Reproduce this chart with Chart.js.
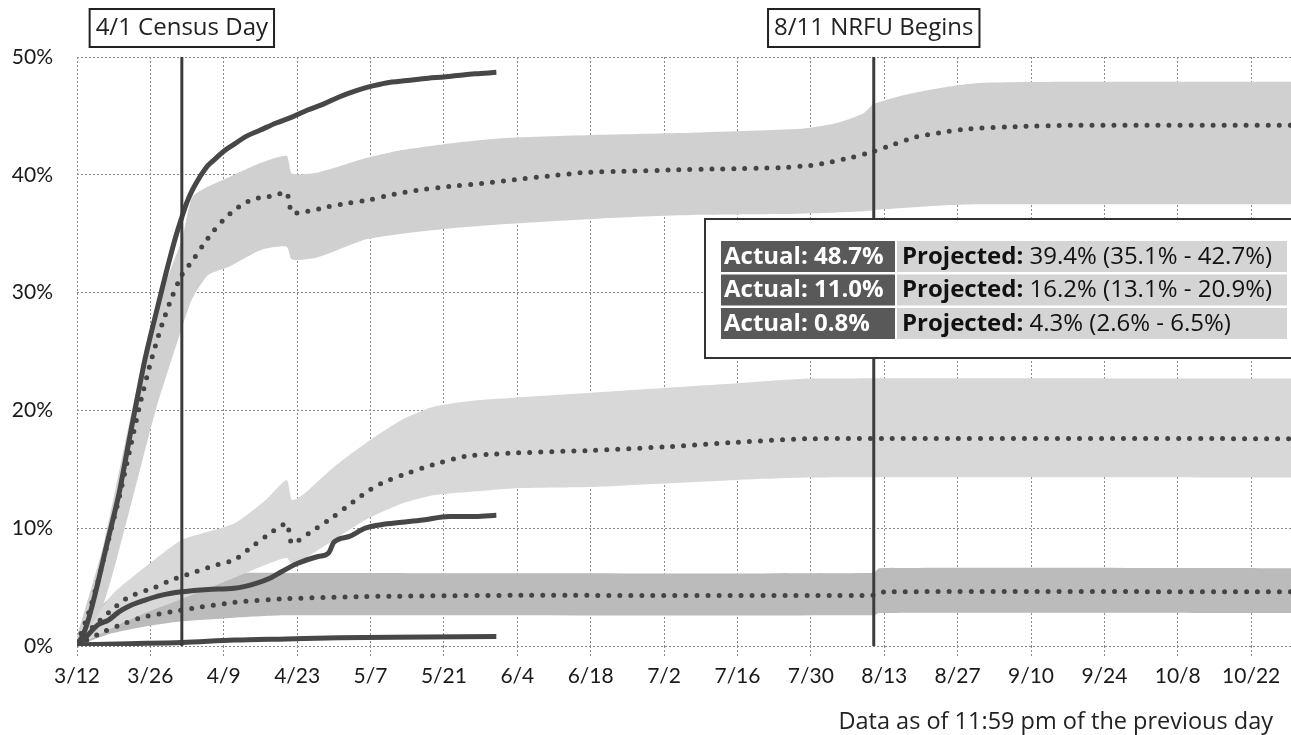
<!DOCTYPE html>
<html>
<head>
<meta charset="utf-8">
<script src="https://cdn.jsdelivr.net/npm/chart.js@4.4.1/dist/chart.umd.min.js"></script>
<style>
  body { margin: 0; background: #fff; }
  canvas { display: block; }
</style>
</head>
<body>
<canvas id="responseChart" width="1291" height="735"></canvas>
<script>
// days since 3/12
const xTickLabels = ['3/12', '3/26', '4/9', '4/23', '5/7', '5/21', '6/4', '6/18', '7/2', '7/16', '7/30', '8/13', '8/27', '9/10', '9/24', '10/8', '10/22'];
const yTicks = [0, 10, 20, 30, 40, 50];

// actual response rates (solid lines)
const actualHighDays = [0, 1, 2, 3, 4, 5, 6, 7, 8, 9, 10, 11, 12, 13, 14, 15, 16, 17, 18, 19, 20, 21, 22, 23, 24, 25, 26, 28, 30, 32, 35, 38, 41, 44, 47, 50, 53, 56, 59, 63, 67, 70, 74, 77, 80];
const actualHigh = [0.2, 0.8, 2.0, 3.6, 5.4, 7.3, 9.2, 11.0, 12.9, 15.2, 17.6, 19.9, 22.2, 24.4, 26.3, 28.1, 29.9, 31.7, 33.4, 35.0, 36.4, 37.7, 38.7, 39.5, 40.2, 40.8, 41.2, 42.0, 42.6, 43.2, 43.8, 44.4, 44.9, 45.5, 46.0, 46.6, 47.1, 47.5, 47.8, 48.0, 48.2, 48.3, 48.5, 48.6, 48.7];
const actualMidDays = [0, 2, 4, 6, 8, 10, 13, 16, 20, 25, 30, 34, 37, 39, 42, 46, 48, 49, 52, 55, 58, 62, 66, 71, 76, 80];
const actualMid = [0, 0.9, 1.8, 2.2, 2.9, 3.4, 3.9, 4.3, 4.6, 4.8, 4.9, 5.3, 5.8, 6.3, 7.0, 7.6, 7.9, 8.8, 9.3, 10.0, 10.3, 10.5, 10.7, 11.0, 11.0, 11.1];
const actualLowDays = [0, 10, 20, 30, 40, 50, 60, 80];
const actualLow = [0.1, 0.2, 0.3, 0.5, 0.6, 0.7, 0.75, 0.8];

// projected (dotted lines)
const projHighDays = [0, 2, 4, 6, 8, 10, 12, 14, 16, 18, 20, 22, 24, 26, 28, 30, 32, 34, 36, 38, 40, 41, 44, 48, 52, 56, 60, 65, 71, 78, 84, 90, 97, 105, 113, 123, 134, 140, 144, 148, 152, 156, 160, 165, 170, 180, 190, 232];
const projHigh = [0.2, 2.5, 5.5, 9.0, 12.5, 16.5, 20.5, 24.0, 27.0, 29.5, 31.5, 32.7, 34.0, 35.2, 36.2, 37.0, 37.6, 38.0, 38.1, 38.3, 38.5, 36.8, 36.9, 37.3, 37.6, 37.9, 38.3, 38.7, 39.0, 39.3, 39.6, 39.9, 40.2, 40.3, 40.4, 40.5, 40.6, 40.8, 41.1, 41.5, 42.0, 42.6, 43.2, 43.6, 43.9, 44.1, 44.2, 44.2];
const projMidDays = [0, 3, 7, 10, 15, 18, 22, 26, 30, 33, 36, 40, 41, 45, 49, 52, 55, 58, 62, 68, 74, 80, 84, 98, 112, 126, 140, 232];
const projMid = [0.2, 1.6, 3.2, 4.2, 5.0, 5.6, 6.2, 6.8, 7.3, 8.3, 9.3, 10.4, 8.7, 9.8, 11.0, 12.0, 13.0, 13.8, 14.5, 15.4, 16.1, 16.3, 16.4, 16.6, 16.9, 17.3, 17.6, 17.6];
const projLowDays = [0, 5, 9, 13, 18, 22, 30, 39, 55, 83, 152, 154, 232];
const projLow = [0.1, 1.2, 1.9, 2.5, 2.9, 3.2, 3.7, 4.0, 4.2, 4.3, 4.3, 4.6, 4.6];

// projection ranges (shaded bands)
const bandHighDays = [0, 5, 10, 15, 20, 22, 25, 29, 35, 40, 41, 46, 55, 62, 70, 81, 100, 119, 138, 145, 150, 152, 158, 165, 172, 190, 232];
const bandHighUpper = [0.8, 8.5, 19, 28.5, 34.5, 38.1, 39.0, 39.8, 41.0, 41.6, 40.1, 40.2, 41.4, 42.1, 42.6, 43.1, 43.4, 43.6, 43.9, 44.4, 45.2, 46.0, 46.8, 47.4, 47.8, 47.9, 47.9];
const bandHighLower = [0, 3.5, 11.5, 20, 27, 29.5, 31.5, 32.2, 33.6, 33.9, 32.8, 33.0, 34.5, 35.0, 35.4, 35.8, 36.3, 36.6, 36.7, 36.8, 36.9, 37.0, 37.2, 37.4, 37.5, 37.5, 37.5];
const bandMidDays = [0, 3, 7, 13, 20, 30, 36, 40, 41, 43, 49, 55, 62, 68, 75, 84, 98, 112, 126, 140, 232];
const bandMidUpper = [0.3, 2.2, 4.5, 6.7, 9.0, 10.4, 12.4, 14.1, 12.4, 12.8, 15.2, 17.2, 19.2, 20.3, 20.8, 21.1, 21.5, 21.9, 22.3, 22.7, 22.7];
const bandMidLower = [0, 0.7, 1.6, 2.8, 4.0, 5.8, 6.9, 7.5, 6.9, 7.3, 9.0, 10.7, 12.1, 12.8, 13.1, 13.4, 13.5, 13.8, 14.1, 14.3, 14.3];
const bandLowDays = [0, 3, 6, 10, 15, 20, 30, 40, 152, 153, 232];
const bandLowUpper = [0.3, 2.5, 4.0, 5.0, 5.7, 6.0, 6.2, 6.2, 6.2, 6.6, 6.6];
const bandLowLower = [0, 0.5, 1.0, 1.4, 1.8, 2.1, 2.4, 2.6, 2.6, 2.8, 2.8];

// milestones
const markerDays = [20, 152];
const markerLabels = ['4/1 Census Day', '8/11 NRFU Begins'];

// summary box
const summaryActual = ['48.7%', '11.0%', '0.8%'];
const summaryProjected = ['39.4% (35.1% - 42.7%)', '16.2% (13.1% - 20.9%)', '4.3% (2.6% - 6.5%)'];
const footnote = 'Data as of 11:59 pm of the previous day';

const FONT = 'Lato, "Open Sans", sans-serif';
const TEXT_FONT = '"Open Sans", Lato, sans-serif';
const LINE_DARK = '#474747';

function pts(days, vals) {
    return days.map((d, i) => ({ x: d, y: vals[i] }));
}

function solid(days, vals) {
    return {
        data: pts(days, vals), borderColor: LINE_DARK, borderWidth: 5, pointRadius: 0,
        cubicInterpolationMode: 'monotone', fill: false, order: 1
    };
}

function dotted(days, vals) {
    return {
        data: pts(days, vals), borderColor: '#444', borderWidth: 5, pointRadius: 0,
        borderDash: [0, 11], borderCapStyle: 'round', tension: 0.2, fill: false, order: 2
    };
}

function bandEdge(days, vals, fillColor) {
    return {
        data: pts(days, vals), borderWidth: 0, borderColor: 'rgba(0,0,0,0)', pointRadius: 0,
        tension: 0.2, fill: fillColor ? { target: '-1' } : false,
        backgroundColor: fillColor || 'rgba(0,0,0,0)', order: 3
    };
}

const overlayPlugin = {
    id: 'overlay',
    afterDraw(chart) {
        const ctx = chart.ctx;
        const x = chart.scales.x, y = chart.scales.y;
        ctx.save();

        // milestone lines and labels
        markerDays.forEach((d, i) => {
            const px = x.getPixelForValue(d);
            ctx.strokeStyle = '#3c3c3c';
            ctx.lineWidth = 3;
            ctx.beginPath();
            ctx.moveTo(px, y.getPixelForValue(50));
            ctx.lineTo(px, y.getPixelForValue(0));
            ctx.stroke();

            ctx.font = '24px ' + TEXT_FONT;
            const w = ctx.measureText(markerLabels[i]).width + 12;
            ctx.fillStyle = '#fff';
            ctx.fillRect(px - w / 2, 9, w, 38);
            ctx.strokeStyle = '#222';
            ctx.lineWidth = 2;
            ctx.strokeRect(px - w / 2, 9, w, 38);
            ctx.fillStyle = '#222';
            ctx.textAlign = 'center';
            ctx.textBaseline = 'middle';
            ctx.fillText(markerLabels[i], px, 28);
        });

        // summary box
        ctx.fillStyle = '#fff';
        ctx.fillRect(705, 219, 600, 139);
        ctx.strokeStyle = '#333';
        ctx.lineWidth = 2;
        ctx.strokeRect(705, 219, 600, 139);
        ctx.textBaseline = 'middle';
        ctx.textAlign = 'left';
        summaryActual.forEach((a, i) => {
            const top = 241 + i * 33.5;
            ctx.fillStyle = '#595959';
            ctx.fillRect(721, top, 174, 31);
            ctx.fillStyle = '#d4d4d4';
            ctx.fillRect(897, top, 390, 31);
            ctx.fillStyle = '#fff';
            ctx.font = 'bold 24px ' + TEXT_FONT;
            ctx.fillText('Actual: ' + a, 724, top + 16);
            ctx.fillStyle = '#111';
            ctx.fillText('Projected:', 902, top + 16);
            const lw = ctx.measureText('Projected: ').width;
            ctx.font = '24px ' + TEXT_FONT;
            ctx.fillText(summaryProjected[i], 902 + lw, top + 16);
        });

        // footnote
        ctx.font = '23.5px ' + TEXT_FONT;
        ctx.fillStyle = '#222';
        ctx.textAlign = 'right';
        ctx.fillText(footnote, 1273, 722);
        ctx.restore();
    }
};

const gridOpts = { color: '#8a8a8a', lineWidth: 1, tickLength: 10, tickColor: '#8a8a8a', tickBorderDash: [2, 2] };

new Chart(document.getElementById('responseChart'), {
    type: 'line',
    data: {
        datasets: [
            solid(actualHighDays, actualHigh),
            solid(actualMidDays, actualMid),
            solid(actualLowDays, actualLow),
            dotted(projHighDays, projHigh),
            dotted(projMidDays, projMid),
            dotted(projLowDays, projLow),
            bandEdge(bandHighDays, bandHighLower),
            bandEdge(bandHighDays, bandHighUpper, '#d0d0d0'),
            bandEdge(bandMidDays, bandMidLower),
            bandEdge(bandMidDays, bandMidUpper, '#d8d8d8'),
            bandEdge(bandLowDays, bandLowLower),
            bandEdge(bandLowDays, bandLowUpper, '#bbbbbb')
        ]
    },
    options: {
        responsive: false,
        animation: false,
        layout: { padding: { top: 57, right: 0, bottom: 39, left: 0 } },
        plugins: { legend: { display: false }, tooltip: { enabled: false } },
        scales: {
            x: {
                type: 'linear', min: 0, max: 231.6,
                afterFit: s => { s.height = 50; },
                grid: gridOpts,
                border: { display: false, dash: [2, 2] },
                ticks: {
                    stepSize: 14, includeBounds: false, autoSkip: false, maxRotation: 0,
                    padding: 8, color: '#1a1a1a', font: { family: FONT, size: 21 },
                    callback: (v, i) => xTickLabels[i]
                }
            },
            y: {
                min: 0, max: 50,
                afterFit: s => { s.width = 77; },
                afterBuildTicks: s => { s.ticks = yTicks.map(v => ({ value: v })); },
                grid: { ...gridOpts, drawTicks: false },
                border: { display: false, dash: [2, 2] },
                ticks: {
                    padding: 24, color: '#1a1a1a', font: { family: FONT, size: 21 },
                    callback: v => v + '%'
                }
            }
        }
    },
    plugins: [overlayPlugin]
});
</script>
</body>
</html>
